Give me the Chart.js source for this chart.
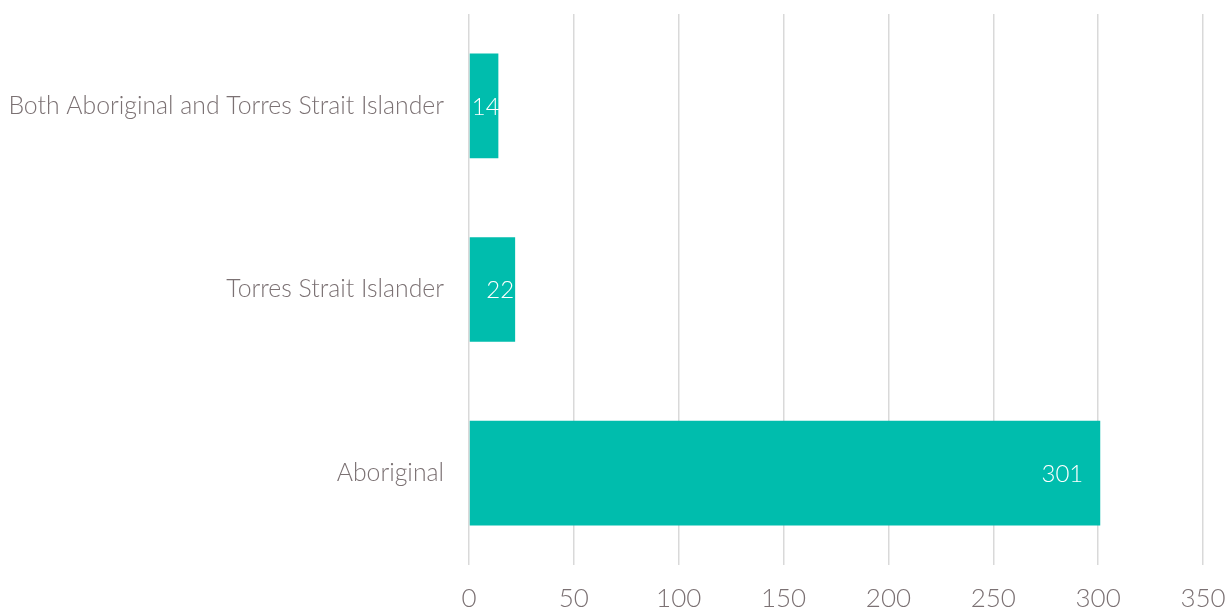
<!DOCTYPE html>
<html>
<head>
<meta charset="utf-8">
<script src="https://cdn.jsdelivr.net/npm/chart.js@4/dist/chart.umd.min.js"></script>
<style>
  html, body { margin: 0; padding: 0; background: #fff; }
  #wrap { width: 1228px; height: 607px; position: relative; }
</style>
</head>
<body>
<div id="wrap"><canvas id="barChart"></canvas></div>
<script>
// categories, top to bottom
const categories = ['Both Aboriginal and Torres Strait Islander', 'Torres Strait Islander', 'Aboriginal'];
const counts = [14, 22, 301];
const xTicks = [0, 50, 100, 150, 200, 250, 300, 350];

const barColor = '#00BDAD';
const textColor = '#7b7173';
const gridColor = '#d9d9d9';
const fontFamily = 'Lato, "Open Sans", sans-serif';

// white value labels drawn at the inside end of each bar
const valueLabels = {
  id: 'valueLabels',
  afterDatasetsDraw(chart) {
    const meta = chart.getDatasetMeta(0);
    const ctx = chart.ctx;
    ctx.save();
    ctx.font = '300 24px ' + fontFamily;
    ctx.fillStyle = '#ffffff';
    ctx.textAlign = 'right';
    ctx.textBaseline = 'middle';
    meta.data.forEach((bar, i) => {
      const txt = String(counts[i]);
      const tw = ctx.measureText(txt).width;
      const w = bar.x - bar.base;
      const pad = w > tw + 40 ? 17 : 1;
      ctx.fillText(txt, Math.max(bar.base + 2 + tw, bar.x - pad), bar.y + 1);
    });
    ctx.restore();
  }
};

function noPad(scale) {
  scale.paddingTop = 0; scale.paddingBottom = 0;
  scale.paddingLeft = 0; scale.paddingRight = 0;
}

new Chart(document.getElementById('barChart'), {
  type: 'bar',
  data: {
    labels: categories,
    datasets: [{
      data: counts,
      backgroundColor: barColor,
      borderWidth: 0,
      barPercentage: 1,
      categoryPercentage: 0.57
    }]
  },
  options: {
    indexAxis: 'y',
    responsive: true,
    maintainAspectRatio: false,
    animation: false,
    layout: { padding: { top: 14, right: 25, left: 0, bottom: 0 } },
    plugins: { legend: { display: false }, tooltip: { enabled: false } },
    scales: {
      x: {
        min: 0, max: 350,
        afterBuildTicks(scale) { scale.ticks = xTicks.map(v => ({ value: v })); },
        afterFit(scale) { scale.height = 42; noPad(scale); },
        grid: { color: gridColor, lineWidth: 1.5, drawTicks: false },
        border: { display: false },
        ticks: { color: textColor, padding: 18, font: { family: fontFamily, size: 26, weight: 300 } }
      },
      y: {
        afterFit(scale) { scale.width = 469; noPad(scale); },
        grid: { display: false, drawTicks: false },
        border: { display: false },
        ticks: { color: textColor, padding: 25, font: { family: fontFamily, size: 24.8, weight: 300 } }
      }
    }
  },
  plugins: [valueLabels]
});
</script>
</body>
</html>
